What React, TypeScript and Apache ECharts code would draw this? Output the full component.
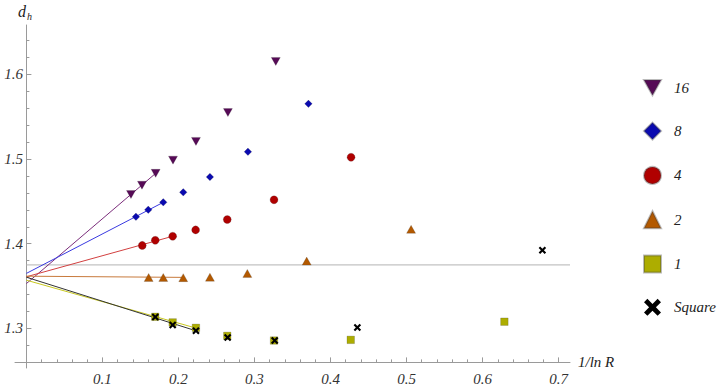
import React, { useEffect, useRef } from 'react';
import * as echarts from 'echarts';

// ---- data ----
const x16 = [0.1375, 0.152, 0.170, 0.1928, 0.223, 0.265, 0.328];
const y16 = [1.458, 1.469, 1.483, 1.4986, 1.5207, 1.5547, 1.615];
const x8 = [0.1441, 0.1603, 0.180, 0.2063, 0.2414, 0.2914, 0.371];
const y8 = [1.4317, 1.440, 1.4488, 1.4606, 1.4788, 1.5084, 1.565];
const x4 = [0.1524, 0.1695, 0.1924, 0.2226, 0.2642, 0.3257, 0.427];
const y4 = [1.398, 1.404, 1.4088, 1.4163, 1.4286, 1.4518, 1.502];
const x2 = [0.1608, 0.180, 0.2063, 0.2414, 0.2906, 0.3687, 0.506];
const y2 = [1.3602, 1.3602, 1.3600, 1.3605, 1.365, 1.3795, 1.417];
const x1 = [0.1695, 0.1924, 0.223, 0.2642, 0.3257, 0.4266, 0.6287];
const y1 = [1.3138, 1.3072, 1.3008, 1.2913, 1.2858, 1.2866, 1.308];
const xSq = [0.1695, 0.1924, 0.223, 0.2647, 0.3266, 0.4353, 0.6787];
const ySq = [1.3135, 1.3042, 1.2973, 1.2893, 1.2858, 1.3012, 1.3922];

// fitted lines: [x, y] at start and end
const fit16 = [[0, 1.353], [0.170, 1.483]];
const fit8 = [[0, 1.365], [0.180, 1.4488]];
const fit4 = [[0, 1.361], [0.1924, 1.4088]];
const fit2 = [[0, 1.3617], [0.2063, 1.3603]];
const fit1 = [[0, 1.357], [0.223, 1.3005]];
const fitSq = [[0, 1.3605], [0.223, 1.2973]];

const referenceLevel = 1.375;
const xTicks = [0.1, 0.2, 0.3, 0.4, 0.5, 0.6, 0.7];
const yTicks = [1.3, 1.4, 1.5, 1.6];
const seriesNames = ['16', '8', '4', '2', '1', 'Square'];

const FONT = '"Liberation Serif", serif';
const AXIS_COLOR = '#9a9a9a';
const DOWN_TRI = 'path://M0,0L10,0L5,9Z';
const CROSS = 'path://M0,2L2,0L5,3L8,0L10,2L7,5L10,8L8,10L5,7L2,10L0,8L3,5Z';

const pts = (xs: number[], ys: number[]) => xs.map((x, i) => [x, ys[i]]);

export default function App() {
  const ref = useRef<HTMLDivElement>(null);
  useEffect(() => {
    if (!ref.current) return;
    const chart = echarts.init(ref.current, undefined, { renderer: 'svg' });
    const border = { borderColor: 'rgba(60,60,60,0.35)', borderWidth: 0.6 };
    const scatter = (name: string, data: number[][], symbol: string, size: any, color: string, withBorder = true) => ({
      name, type: 'scatter', data, symbol, symbolSize: size, z: 5,
      itemStyle: withBorder ? { color, opacity: 1, ...border } : { color, opacity: 1 },
    });
    const fitLine = (name: string, data: number[][], color: string) => ({
      name, type: 'line', data, symbol: 'none', silent: true, z: 3,
      lineStyle: { color, width: 1 },
    });
    const axisFont = { fontFamily: FONT, fontStyle: 'italic', fontSize: 15, color: '#333' };
    chart.setOption({
      animation: false,
      backgroundColor: '#fff',
      grid: { left: 15, right: 149, top: 25, bottom: 19, outerBoundsMode: 'none', containLabel: false },
      xAxis: {
        type: 'value', min: -0.015, max: 0.715, minInterval: 0.1, maxInterval: 0.1,
        offset: -5.6,
        axisLine: { onZero: false, lineStyle: { color: AXIS_COLOR, width: 1 } },
        axisTick: { inside: true, length: 5, customValues: xTicks, lineStyle: { color: AXIS_COLOR } },
        minorTick: { show: true, splitNumber: 5, length: 3, lineStyle: { color: AXIS_COLOR } },
        axisLabel: { customValues: xTicks, formatter: (v: number) => v.toFixed(1), margin: 9, ...axisFont },
        splitLine: { show: false }, minorSplitLine: { show: false },
        name: '1/ln R', nameLocation: 'end', nameGap: 8,
        nameTextStyle: { ...axisFont, color: '#222' },
      },
      yAxis: {
        type: 'value', min: 1.2534, max: 1.658, minInterval: 0.1, maxInterval: 0.1,
        axisLine: { onZero: true, lineStyle: { color: AXIS_COLOR, width: 1 } },
        axisTick: { inside: true, length: 5, customValues: yTicks, lineStyle: { color: AXIS_COLOR } },
        minorTick: { show: true, splitNumber: 5, length: 3, lineStyle: { color: AXIS_COLOR } },
        axisLabel: { customValues: yTicks, formatter: (v: number) => v.toFixed(1), margin: -8, ...axisFont },
        splitLine: { show: false }, minorSplitLine: { show: false },
      },
      legend: {
        orient: 'vertical', left: 643, top: 79, padding: 0,
        itemWidth: 17, itemHeight: 17, itemGap: 25.3,
        textStyle: { fontFamily: FONT, fontStyle: 'italic', fontSize: 15, color: '#222', padding: [0, 0, 0, 8] },
        data: [
          { name: seriesNames[0], icon: DOWN_TRI },
          { name: seriesNames[1], icon: 'diamond' },
          { name: seriesNames[2], icon: 'circle' },
          { name: seriesNames[3], icon: 'triangle' },
          { name: seriesNames[4], icon: 'rect' },
          { name: seriesNames[5], icon: CROSS },
        ],
      },
      graphic: [
        { type: 'text', left: 18, top: 3, style: { text: 'd', font: `italic 16px ${FONT}`, fill: '#222' } },
        { type: 'text', left: 27, top: 11, style: { text: 'h', font: `italic 10px ${FONT}`, fill: '#222' } },
      ],
      series: [
        {
          name: 'ref', type: 'line', data: [[0, referenceLevel], [0.715, referenceLevel]],
          symbol: 'none', silent: true, z: 2, lineStyle: { color: '#b4b4b4', width: 1 },
        },
        fitLine('fit16', fit16, '#7b2d7b'),
        fitLine('fit8', fit8, '#3a3ae0'),
        fitLine('fit4', fit4, '#d24040'),
        fitLine('fit2', fit2, '#c87a3c'),
        fitLine('fit1', fit1, '#c8c820'),
        fitLine('fitSq', fitSq, '#333333'),
        scatter(seriesNames[0], pts(x16, y16), DOWN_TRI, [9, 8], '#560a56'),
        scatter(seriesNames[1], pts(x8, y8), 'diamond', [7.5, 7.5], '#0a0ab0'),
        scatter(seriesNames[2], pts(x4, y4), 'circle', 8, '#b00000'),
        scatter(seriesNames[3], pts(x2, y2), 'triangle', [9, 8], '#b35900'),
        scatter(seriesNames[4], pts(x1, y1), 'rect', 7.5, '#adad00'),
        scatter(seriesNames[5], pts(xSq, ySq), CROSS, 7.5, '#000000', false),
      ],
    });
    return () => chart.dispose();
  }, []);
  return <div ref={ref} style={{ position: 'absolute', left: 0, top: 0, width: 719, height: 387 }} />;
}
